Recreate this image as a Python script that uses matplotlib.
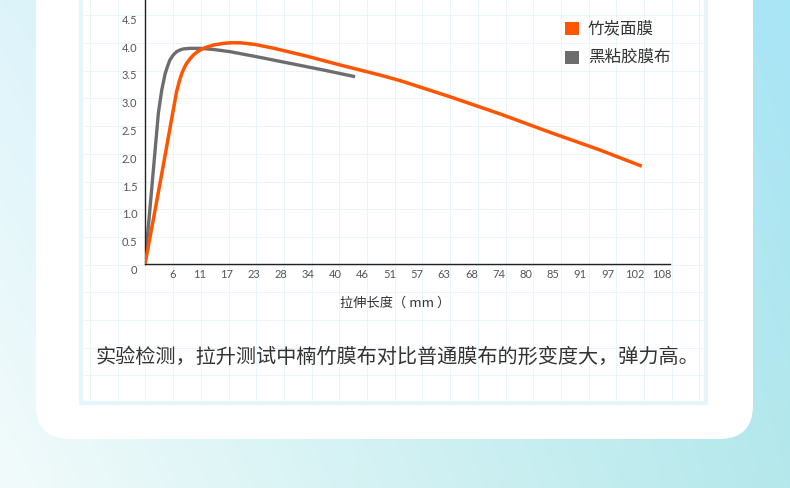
import numpy as np
import matplotlib
matplotlib.use("Agg")
import matplotlib.pyplot as plt
from matplotlib.patches import FancyBboxPatch, Rectangle
from matplotlib.transforms import ScaledTranslation

plt.rcParams["font.family"] = ["Noto Sans CJK SC", "DejaVu Sans"]

W, H, DPI = 790, 488, 100

# ---------------- data ----------------
SERIES = ["竹炭面膜", "黑粘胶膜布"]
COLORS = ["#ff5500", "#6d6d6d"]

bamboo_x = [0, 2.0, 4.0, 5.5, 6.6, 7.2, 7.7, 8.2, 8.7, 9.4, 10.1, 11.1, 12.2, 13.2, 14.3,
            16.4, 17.8, 20.0, 23.0, 27.0, 33.8, 40.8, 49.1, 53.3, 63.7, 74.2, 84.6, 95.1, 103.8]
bamboo_y = [0, 0.92, 1.86, 2.58, 3.10, 3.30, 3.43, 3.53, 3.61, 3.69, 3.76, 3.83, 3.88, 3.91, 3.94,
            3.97, 3.98, 3.98, 3.95, 3.88, 3.74, 3.58, 3.40, 3.30, 3.01, 2.70, 2.37, 2.05, 1.76]

black_x = [0, 1.4, 2.8, 3.5, 4.2, 4.8, 5.2, 5.9, 6.6, 7.3, 8.0, 9.4, 11.5, 14.3, 17.8,
           23.3, 30.3, 37.3, 43.9]
black_y = [0, 1.35, 2.72, 3.13, 3.42, 3.58, 3.67, 3.76, 3.82, 3.85, 3.87, 3.88, 3.88, 3.86, 3.82,
           3.73, 3.61, 3.49, 3.37]

XTICK_LABELS = ["6", "11", "17", "23", "28", "34", "40", "46", "51", "57",
                "63", "68", "74", "80", "85", "91", "97", "102", "108"]
YTICKS = [0, 0.5, 1.0, 1.5, 2.0, 2.5, 3.0, 3.5, 4.0, 4.5]
YTICK_LABELS = ["0", "0.5", "1.0", "1.5", "2.0", "2.5", "3.0", "3.5", "4.0", "4.5"]
XLABEL = "拉伸长度（ mm ）"
CAPTION = "实验检测，拉升测试中楠竹膜布对比普通膜布的形变度大，弹力高。"

fig = plt.figure(figsize=(W / DPI, H / DPI), dpi=DPI)

# ---------------- background layer in pixel coords ----------------
bg = fig.add_axes([0, 0, 1, 1], zorder=0)
bg.set_xlim(0, W); bg.set_ylim(H, 0); bg.axis("off")

tl = np.array([222, 244, 251]); tr = np.array([168, 229, 246])
bl = np.array([242, 251, 251]); br = np.array([180, 232, 235])
u = np.linspace(0, 1, W)[None, :, None]
v = np.linspace(0, 1, H)[:, None, None]
grad = (1 - v) * ((1 - u) * tl + u * tr) + v * ((1 - u) * bl + u * br)
bg.imshow(grad / 255, extent=(0, W, H, 0), aspect="auto", zorder=0)

bg.add_patch(FancyBboxPatch((36, -80), 717, 519, boxstyle="round,pad=0,rounding_size=34",
                            fc="white", ec="none", zorder=1))
# grid paper
bg.add_patch(Rectangle((81, -10), 625, 413, fc="white", ec="#e6f5fc", lw=3, zorder=2))
gx = 90 + 27.7 * np.arange(0, 23)
gx = gx[(gx > 82) & (gx < 705)]
gy = 15.3 + 27.7 * np.arange(0, 15)
gy = gy[gy < 401]
bg.vlines(gx, -10, 401, color="#e6f4fa", lw=0.6, zorder=3)
bg.hlines(gy, 83, 704, color="#e6f4fa", lw=0.6, zorder=3)

# legend
for i, (name, c) in enumerate(zip(SERIES, COLORS)):
    y0 = 22 + 29 * i
    bg.add_patch(Rectangle((565, y0), 14, 13, fc=c, ec="none", zorder=4))
    bg.text(588, y0 + 6.5, name, fontsize=11.9, color="#333333", va="center", ha="left", zorder=4)

bg.text(395, 303, XLABEL, fontsize=9.5, color="#333333", ha="center", va="center", zorder=4)
bg.text(397, 357, CAPTION, fontsize=14.5, color="#333333", ha="center", va="center", zorder=4)

# ---------------- chart ----------------
ax = fig.add_axes([145 / W, (H - 264) / H, 525 / W, 264 / H], zorder=2)
ax.patch.set_alpha(0)
ax.plot(bamboo_x, bamboo_y, color=COLORS[0], lw=2.5, solid_capstyle="butt",
        solid_joinstyle="round", zorder=3)
ax.plot(black_x, black_y, color=COLORS[1], lw=2.4, solid_capstyle="butt",
        solid_joinstyle="round", zorder=2)
ax.set_xlim(0, 109.7)
ax.set_ylim(0, 4.75)

ax.set_xticks(np.arange(1, 20) * 108 / 19)
ax.set_xticklabels(XTICK_LABELS, fontfamily="Lato")
ax.set_yticks(YTICKS)
ax.set_yticklabels(YTICK_LABELS, fontfamily="Lato")
ax.tick_params(length=0, labelsize=8, labelcolor="#555555")
ax.tick_params(axis="x", pad=3.5)
ax.tick_params(axis="y", pad=5.5)
shift = ScaledTranslation(0, -0.055, fig.dpi_scale_trans)
for t in ax.get_yticklabels():
    t.set_transform(t.get_transform() + shift)

for s in ["top", "right"]:
    ax.spines[s].set_visible(False)
for s in ["left", "bottom"]:
    ax.spines[s].set_color("#222222")
    ax.spines[s].set_linewidth(1.0)

fig.savefig("out.png", dpi=DPI)
